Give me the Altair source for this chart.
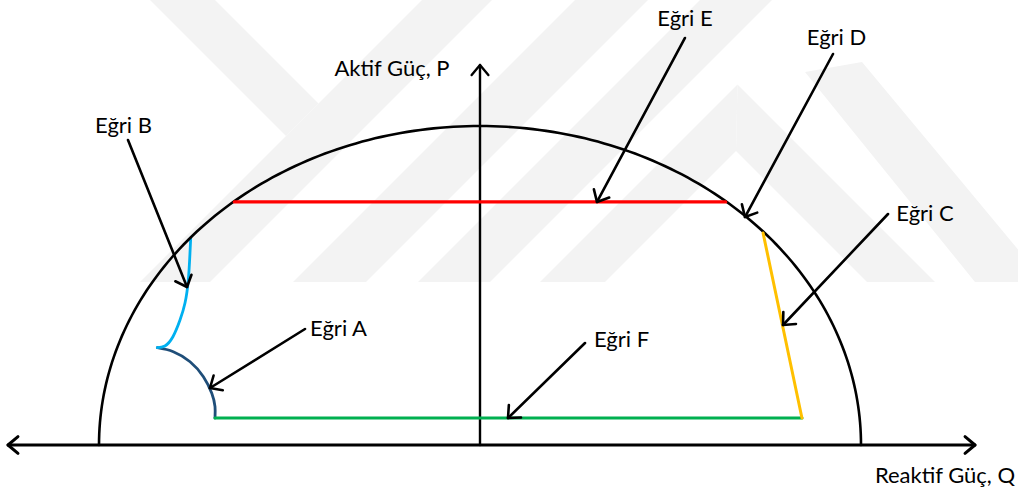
import math
import altair as alt
import pandas as pd

# ---------------------------------------------------------------------------
# Capability-curve diagram: active power P vs. reactive power Q (per unit)
# ---------------------------------------------------------------------------

# Eğri E: upper active-power limit (horizontal, ends on the S = 1 circle)
E_Q = [-0.645, 0.645]
E_P = [0.762, 0.762]

# Eğri F: lower active-power limit
F_Q = [-0.6955, 0.845]
F_P = [0.0846, 0.0846]

# Eğri C: leading-side limit (sloped line)
C_Q = [0.743, 0.845]
C_P = [0.6646, 0.0846]

# Eğri A: lower-left curved limit
A_Q = [-0.847, -0.805, -0.761, -0.726, -0.704, -0.6955, -0.6955]
A_P = [0.305, 0.2925, 0.261, 0.214, 0.162, 0.120, 0.0846]

# Eğri B: upper-left curved limit
B_Q = [-0.847, -0.827, -0.806, -0.7874, -0.7743, -0.7656, -0.7612, -0.7593]
B_P = [0.305, 0.3103, 0.3395, 0.3918, 0.4451, 0.5172, 0.6019, 0.6489]

CURVE_COLORS = {"A": "#1f4e79", "B": "#00b0f0", "C": "#ffc000",
                "E": "#ff0000", "F": "#00b050"}

# Annotation labels (text, Q, P of the baseline centre)
LABELS = ["Eğri E", "Eğri D", "Eğri C", "Eğri B", "Eğri A", "Eğri F"]
LABEL_Q = [0.538, 0.9357, 1.168, -0.9357, -0.3714, 0.3714]
LABEL_P = [1.3135, 1.2539, 0.7022, 0.978, 0.3417, 0.3072]

# Pointer arrows: start (near label) -> tip (on the curve)
ARROW_NAMES = ["E", "D", "C", "B", "A", "F"]
ARROW_Q0 = [0.538, 0.9265, 1.0709, -0.9239, -0.4593, 0.2756]
ARROW_P0 = [1.2759, 1.2257, 0.7241, 0.9561, 0.3636, 0.3197]
ARROW_Q1 = [0.3071, 0.6955, 0.7953, -0.769, -0.7087, 0.0735]
ARROW_P1 = [0.7618, 0.7147, 0.3762, 0.4953, 0.1787, 0.0846]

# Axis titles
AXIS_TITLES = ["Aktif Güç, P", "Reaktif Güç, Q"]
AXIS_TITLE_Q = [-0.231, 1.2205]
AXIS_TITLE_P = [1.1567, -0.1191]

# Axis extents
Q_AXIS = [-1.2388, 1.2992]
P_AXIS_TOP = 1.1912

# ---------------------------------------------------------------------------
# Canvas / scale set-up
# ---------------------------------------------------------------------------
W, H = 1018, 492
OX, OY = 480, 445          # origin in canvas pixels
SX, SY = 381.0, 319.0      # pixels per unit on each axis

X_DOMAIN = [-OX / SX, (W - OX) / SX]
Y_DOMAIN = [-(H - OY) / SY, OY / SY]


def to_q(px):
    return (px - OX) / SX


def to_p(py):
    return (OY - py) / SY


def arrow_head(q_tip, p_tip, q_from, p_from, length=13.0, spread=42.0):
    """Two arm end-points of an open arrow head, built in screen space."""
    dx = (q_from - q_tip) * SX
    dy = (p_from - p_tip) * SY
    n = math.hypot(dx, dy)
    dx, dy = dx / n, dy / n
    arms = []
    for s in (spread, -spread):
        a = math.radians(s)
        rx = dx * math.cos(a) - dy * math.sin(a)
        ry = dx * math.sin(a) + dy * math.cos(a)
        arms.append((q_tip + rx * length / SX, p_tip + ry * length / SY))
    return arms


rows = []
curve_rows = []


def add_path(name, qs, ps, color, width, target=None):
    target = rows if target is None else target
    for i, (q, p) in enumerate(zip(qs, ps)):
        target.append({"name": name, "seq": i, "q": q, "p": p,
                       "color": color, "sw": width})


def add_arrow(name, q0, p0, q1, p1, color="#000000", width=2.6,
              length=13.0, spread=42.0):
    add_path(name + "_shaft", [q0, q1], [p0, p1], color, width)
    (qa, pa), (qb, pb) = arrow_head(q1, p1, q0, p0, length, spread)
    add_path(name + "_head", [qa, q1, qb], [pa, p1, pb], color, width)


# S = 1 capability circle (upper half)
n_circ = 181
circ_q = [math.cos(math.pi * i / (n_circ - 1)) for i in range(n_circ)]
circ_p = [math.sin(math.pi * i / (n_circ - 1)) for i in range(n_circ)]
add_path("circle", circ_q, circ_p, "#000000", 2.6)

# Coordinate axes with arrow heads
add_path("q_axis", Q_AXIS, [0, 0], "#000000", 3.0)
for end, other in ((Q_AXIS[0], Q_AXIS[1]), (Q_AXIS[1], Q_AXIS[0])):
    (qa, pa), (qb, pb) = arrow_head(end, 0, other, 0, 13.0, 40.0)
    add_path("q_head_%s" % end, [qa, end, qb], [pa, 0, pb], "#000000", 3.0)
add_path("p_axis", [0, 0], [0, P_AXIS_TOP], "#000000", 2.4)
(qa, pa), (qb, pb) = arrow_head(0, P_AXIS_TOP, 0, 0, 13.0, 40.0)
add_path("p_head", [qa, 0, qb], [pa, P_AXIS_TOP, pb], "#000000", 2.4)

# Limit lines
add_path("E", E_Q, E_P, CURVE_COLORS["E"], 3.2)
add_path("F", F_Q, F_P, CURVE_COLORS["F"], 3.2)
add_path("C", C_Q, C_P, CURVE_COLORS["C"], 3.0)
# Curved limits (drawn smoothed)
add_path("A", A_Q, A_P, CURVE_COLORS["A"], 2.8, curve_rows)
add_path("B", B_Q, B_P, CURVE_COLORS["B"], 2.8, curve_rows)

# Pointer arrows
for nm, q0, p0, q1, p1 in zip(ARROW_NAMES, ARROW_Q0, ARROW_P0,
                              ARROW_Q1, ARROW_P1):
    add_arrow("arrow_" + nm, q0, p0, q1, p1)

strokes = pd.DataFrame(rows)
curves = pd.DataFrame(curve_rows)

# ---------------------------------------------------------------------------
# Faint background emblem: convex polygons in canvas pixels (x, y)
# ---------------------------------------------------------------------------
EMBLEM = {
    "b1": [(422, 0), (492, 0), (210, 282), (140, 282)],
    "c1": [(150, 0), (215, 0), (318.5, 103.5), (286, 136)],
    "b2": [(575, 0), (648, 0), (366, 282), (293, 282)],
    "b3": [(700, 0), (772, 0), (490, 282), (418, 282)],
    "l_left": [(737.5, 84.5), (736, 151), (605, 282), (540, 282)],
    "l_right": [(737.5, 84.5), (935, 282), (867, 282), (736, 151)],
    "r_band": [(805, 72), (862, 62), (1045, 282), (975, 282)],
}


def polygon_slices(poly):
    """Upper/lower y bounds of a convex polygon at each vertex x."""
    xs_ = sorted(set(round(x, 3) for x, _ in poly))
    out = []
    n = len(poly)
    for x in xs_:
        ys_ = []
        for i in range(n):
            (x0, y0), (x1, y1) = poly[i], poly[(i + 1) % n]
            lo, hi = min(x0, x1), max(x0, x1)
            if lo - 1e-6 <= x <= hi + 1e-6:
                if abs(x1 - x0) < 1e-9:
                    ys_ += [y0, y1]
                else:
                    t = (x - x0) / (x1 - x0)
                    ys_.append(y0 + t * (y1 - y0))
        out.append((x, min(ys_), max(ys_)))
    return out


wm_rows = []
for bid, poly in EMBLEM.items():
    for i, (px, y_top, y_bot) in enumerate(polygon_slices(poly)):
        wm_rows.append({"band": bid, "seq": i, "q": to_q(px),
                        "p": to_p(y_top), "p2": to_p(y_bot)})
watermark = pd.DataFrame(wm_rows)

texts = pd.DataFrame({
    "label": LABELS + AXIS_TITLES,
    "q": LABEL_Q + AXIS_TITLE_Q,
    "p": LABEL_P + AXIS_TITLE_P,
})

xs = alt.Scale(domain=X_DOMAIN, nice=False, zero=False)
ys = alt.Scale(domain=Y_DOMAIN, nice=False, zero=False)

wm_layer = alt.Chart(watermark).mark_area(
    color="#f3f3f3", opacity=1, clip=True
).encode(
    x=alt.X("q:Q", scale=xs, axis=None),
    y=alt.Y("p:Q", scale=ys, axis=None, stack=None),
    y2="p2:Q",
    detail="band:N",
)

line_enc = dict(
    x=alt.X("q:Q", scale=xs, axis=None),
    y=alt.Y("p:Q", scale=ys, axis=None),
    detail="name:N",
    order="seq:Q",
    color=alt.Color("color:N", scale=None),
    strokeWidth=alt.StrokeWidth("sw:Q", scale=None),
)

line_layer = alt.Chart(strokes).mark_line(
    strokeCap="round", strokeJoin="round", clip=True
).encode(**line_enc)

curve_layer = alt.Chart(curves).mark_line(
    strokeCap="round", strokeJoin="round", interpolate="natural", clip=True
).encode(**line_enc)

text_layer = alt.Chart(texts).mark_text(
    font="Lato", fontSize=22, color="#000000",
    align="center", baseline="alphabetic"
).encode(
    x=alt.X("q:Q", scale=xs, axis=None),
    y=alt.Y("p:Q", scale=ys, axis=None),
    text="label:N",
)

chart = alt.layer(wm_layer, curve_layer, line_layer, text_layer).properties(
    width=W, height=H,
    autosize=alt.AutoSizeParams(type="none"),
    padding=0,
    background="#ffffff",
).configure_view(stroke=None)

chart.save("out.html", embed_options={"renderer": "svg", "actions": False})
